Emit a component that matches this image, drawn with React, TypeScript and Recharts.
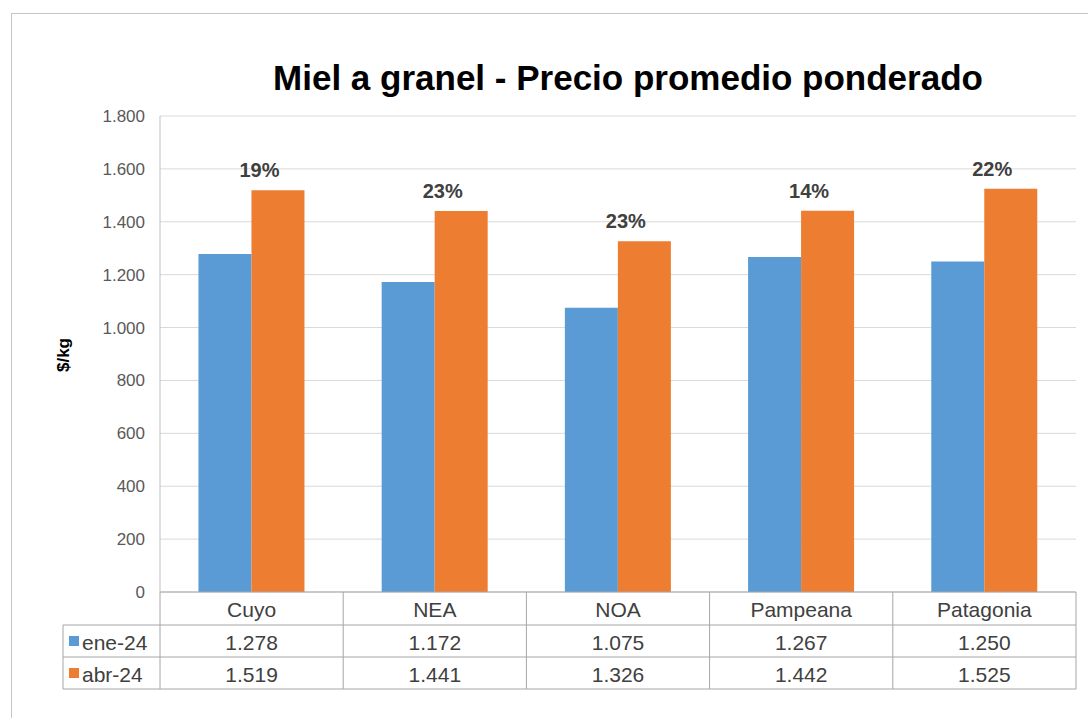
import React from 'react';
import { BarChart, Bar, XAxis, YAxis, CartesianGrid, LabelList } from 'recharts';

const categories = ['Cuyo', 'NEA', 'NOA', 'Pampeana', 'Patagonia'];
const ene24 = [1278, 1172, 1075, 1267, 1250];
const abr24 = [1519, 1441, 1326, 1442, 1525];
const changeLabels = ['19%', '23%', '23%', '14%', '22%'];
const seriesNames = ['ene-24', 'abr-24'];
const yTicks = [0, 200, 400, 600, 800, 1000, 1200, 1400, 1600, 1800];

const BLUE = '#5B9BD5';
const ORANGE = '#ED7D31';
const FONT = "'Liberation Sans', Arial, sans-serif";
const TABLE_LINE = '#a6a6a6';
const TEXT = '#404040';

const W = 1088;
const H = 718;
const PLOT_LEFT = 160;
const PLOT_RIGHT = 1076;
const PLOT_TOP = 116;
const PLOT_BOTTOM = 592;
const XAXIS_H = 100;
const BAND = (PLOT_RIGHT - PLOT_LEFT) / categories.length;
const ROW1 = PLOT_BOTTOM + 33;
const ROW2 = ROW1 + 32;
const ROW3 = ROW2 + 32;
const LEG_LEFT = 63;

const data = categories.map((c, i) => ({ name: c, ene: ene24[i], abr: abr24[i], pct: changeLabels[i] }));

const fmt = (v: number) => String(v).replace(/\B(?=(\d{3})+(?!\d))/g, '.');

const TableTick = (props: any) => {
  const { x, payload } = props;
  const i = payload.index;
  const l = x - BAND / 2;
  const r = x + BAND / 2;
  const els: any[] = [];
  els.push(<line key="vl" x1={l} x2={l} y1={PLOT_BOTTOM} y2={ROW3} stroke={TABLE_LINE} />);
  if (i === categories.length - 1) {
    els.push(<line key="vr" x1={r} x2={r} y1={PLOT_BOTTOM} y2={ROW3} stroke={TABLE_LINE} />);
  }
  [ROW1, ROW2, ROW3].forEach((yy, k) => {
    els.push(<line key={'h' + k} x1={l} x2={r} y1={yy} y2={yy} stroke={TABLE_LINE} />);
  });
  const rowMid = [(PLOT_BOTTOM + ROW1) / 2, (ROW1 + ROW2) / 2, (ROW2 + ROW3) / 2];
  const vals = [payload.value, fmt(ene24[i]), fmt(abr24[i])];
  vals.forEach((t, k) => {
    els.push(
      <text key={'t' + k} x={x} y={rowMid[k] + 1} textAnchor="middle" dominantBaseline="central"
        fontFamily={FONT} fontSize={21} fill={TEXT}>{t}</text>
    );
  });
  if (i === 0) {
    [ROW1, ROW2, ROW3].forEach((yy, k) => {
      els.push(<line key={'lh' + k} x1={LEG_LEFT} x2={PLOT_LEFT} y1={yy} y2={yy} stroke={TABLE_LINE} />);
    });
    els.push(<line key="lv" x1={LEG_LEFT} x2={LEG_LEFT} y1={ROW1} y2={ROW3} stroke={TABLE_LINE} />);
    const colors = [BLUE, ORANGE];
    seriesNames.forEach((n, k) => {
      const my = rowMid[k + 1];
      els.push(<rect key={'sq' + k} x={LEG_LEFT + 6} y={my - 5} width={10} height={10} fill={colors[k]} />);
      els.push(
        <text key={'ln' + k} x={LEG_LEFT + 19} y={my + 1} dominantBaseline="central"
          fontFamily={FONT} fontSize={21} fill={TEXT}>{n}</text>
      );
    });
  }
  return <g>{els}</g>;
};

const PctLabel = (props: any) => {
  const { x, y, value } = props;
  return (
    <text x={x + 8} y={y - 20} textAnchor="middle" dominantBaseline="central"
      fontFamily={FONT} fontSize={20} fontWeight="bold" fill={TEXT}>{value}</text>
  );
};

const YLabel = () => (
  <text x={63} y={355} transform="rotate(-90, 63, 355)" textAnchor="middle" dominantBaseline="central"
    fontFamily={FONT} fontSize={17} fontWeight="bold" fill="#000">$/kg</text>
);

export default function App() {
  return (
    <div style={{ position: 'absolute', left: 0, top: 0, width: W, height: H, background: '#fff', overflow: 'hidden' }}>
      <div style={{ position: 'absolute', left: 11, top: 13, width: W, height: H, borderLeft: '1px solid #c4c4c4', borderTop: '1px solid #c4c4c4' }} />
      <div style={{ position: 'absolute', left: 128, top: 58, width: 1000, textAlign: 'center', fontFamily: FONT, fontWeight: 'bold', fontSize: 35, lineHeight: '40px', color: '#000' }}>
        Miel a granel - Precio promedio ponderado
      </div>
      <div style={{ position: 'absolute', left: 0, top: 0 }}>
        <BarChart width={W} height={H} data={data}
          margin={{ top: PLOT_TOP, right: W - PLOT_RIGHT, left: 60, bottom: H - PLOT_BOTTOM - XAXIS_H }}
          barCategoryGap="21%" barGap={0}>
          <CartesianGrid vertical={false} stroke="#d9d9d9" />
          <XAxis dataKey="name" height={XAXIS_H} interval={0} tickLine={false} tickSize={0} tickMargin={0}
            axisLine={{ stroke: TABLE_LINE }} tick={<TableTick />} />
          <YAxis width={PLOT_LEFT - 60} domain={[0, 1800]} ticks={yTicks} tickFormatter={fmt}
            tickLine={false} tickSize={0} tickMargin={15} axisLine={{ stroke: '#bfbfbf' }}
            tick={{ fontFamily: FONT, fontSize: 17, fill: '#595959' }} label={<YLabel />} />
          <Bar dataKey="ene" name={seriesNames[0]} fill={BLUE} isAnimationActive={false} />
          <Bar dataKey="abr" name={seriesNames[1]} fill={ORANGE} isAnimationActive={false}>
            <LabelList dataKey="pct" content={<PctLabel />} />
          </Bar>
        </BarChart>
      </div>
    </div>
  );
}
